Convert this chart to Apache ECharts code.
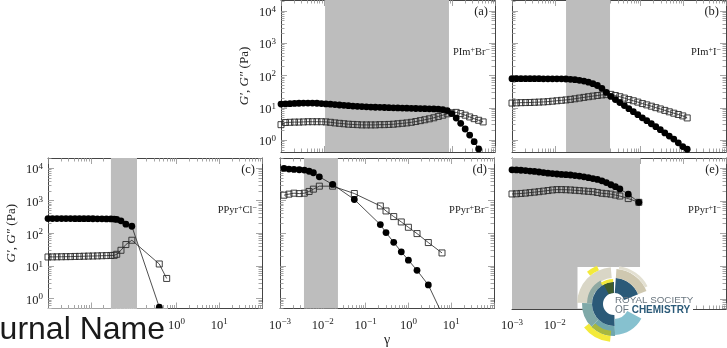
<!DOCTYPE html>
<html>
<head>
<meta charset="utf-8">
<style>
  html, body { margin: 0; padding: 0; background: #fff; }
  #chart { width: 727px; height: 348px; }
</style>
<script src="https://cdn.jsdelivr.net/npm/echarts@6/dist/echarts.min.js"></script>
</head>
<body>
<div id="chart"></div>
<script>
// panel (a)
var aStrain = [0.001, 0.00127, 0.00162, 0.00207, 0.00263, 0.00335, 0.00427, 0.00543, 0.00692, 0.00881, 0.0112, 0.0143, 0.0182, 0.0232, 0.0295, 0.0376, 0.0479, 0.061, 0.0776, 0.0989, 0.126, 0.16, 0.204, 0.26, 0.331, 0.422, 0.537, 0.684, 0.871, 1.11, 1.41, 1.8, 2.29, 2.92, 3.72, 4.73, 6.03, 7.68, 9.77, 12.4, 15.8, 20.1, 25.6, 32.6, 41.5, 52.8];
var aStorage = [13, 13.2, 13.4, 13.6, 13.8, 14, 14, 14, 13.8, 13.5, 13.2, 12.9, 12.6, 12.2, 11.9, 11.6, 11.3, 11.1, 10.9, 10.7, 10.5, 10.4, 10.3, 10.2, 10.1, 10, 9.9, 9.8, 9.7, 9.6, 9.5, 9.45, 9.4, 9.3, 9.2, 9.1, 8.8, 8.2, 6.6, 4.8, 3.3, 2.2, 1.43, 0.89, 0.53];
var aLoss = [3.0, 3.5, 3.55, 3.6, 3.6, 3.65, 3.7, 3.7, 3.7, 3.7, 3.65, 3.55, 3.4, 3.3, 3.2, 3.1, 3.05, 3.0, 2.95, 2.95, 2.95, 2.95, 3.0, 3.0, 3.05, 3.1, 3.2, 3.3, 3.4, 3.55, 3.75, 4.0, 4.25, 4.55, 4.9, 5.4, 5.9, 6.5, 7.0, 7.2, 6.6, 5.9, 5.2, 4.6, 4.1, 3.65];
var aShade = [0.0107, 8.4];

// panel (b)
var bStrain = [0.001, 0.00127, 0.00162, 0.00207, 0.00263, 0.00335, 0.00427, 0.00543, 0.00692, 0.00881, 0.0112, 0.0143, 0.0182, 0.0232, 0.0295, 0.0376, 0.0479, 0.061, 0.0776, 0.0989, 0.126, 0.16, 0.204, 0.26, 0.331, 0.422, 0.537, 0.684, 0.871, 1.11, 1.41, 1.8, 2.29, 2.92, 3.72, 4.73, 6.03, 7.68, 9.77, 12.4];
var bStorage = [80, 80, 80, 80, 80, 80, 80, 79, 79, 79, 79, 79, 78, 76, 74, 71, 67, 62, 56, 49, 40, 30, 22.5, 18, 14.5, 11.7, 9.4, 7.6, 6.1, 4.9, 4, 3.2, 2.6, 2.1, 1.66, 1.33, 1.07, 0.82, 0.63, 0.52];
var bLoss = [14, 14.2, 14.4, 14.5, 14.6, 14.8, 15, 15.2, 15.5, 16, 16.5, 17, 17.5, 18.2, 19, 20, 21, 22, 23, 24, 25, 25.5, 26, 24, 22, 20, 18, 16.5, 15, 13.5, 12.3, 11.2, 10.1, 9.2, 8.3, 7.5, 6.8, 6.2, 5.6, 4.85];
var bShade = [0.0183, 0.195];

// panel (c)
var cStrain = [0.001, 0.00127, 0.00162, 0.00207, 0.00263, 0.00335, 0.00427, 0.00543, 0.00692, 0.00881, 0.0112, 0.0143, 0.0182, 0.0232, 0.0295, 0.0352, 0.0403, 0.0507, 0.066, 0.091, 0.398, 0.593];
var cStorage = [283, 283, 283, 282, 282, 282, 281, 281, 280, 280, 279, 278, 277, 276, 275, 272, 265, 240, 190, 164, 0.54];
var cLoss = [18.7, 18.8, 18.9, 19, 19.1, 19.2, 19.4, 19.5, 19.7, 19.9, 20, 20.2, 20.4, 20.6, 20.8, 21, 22.6, 30, 45, 61, 11.4, 4.1];
var cShade = [0.0295, 0.12];

// panel (d)
var dStrain = [0.00124, 0.00162, 0.00212, 0.00282, 0.0037, 0.00478, 0.00603, 0.0083, 0.017, 0.0545, 0.221, 0.3, 0.454, 0.682, 1, 1.59, 2.92, 6.1];
var dStorage = [9800, 9300, 9100, 8900, 8700, 8000, 7200, 5400, 3150, 1090, 185, 105, 53, 27, 15, 7.3, 2.6, 0.34];
var dLoss = [1475, 1590, 1700, 1650, 1700, 1920, 2260, 2790, 2790, 1660, 690, 485, 326, 223, 153, 98, 52, 25];
var dShade = [0.00363, 0.0226];

// panel (e)
var eStrain = [0.001, 0.00127, 0.00162, 0.00207, 0.00263, 0.00335, 0.00427, 0.00543, 0.00692, 0.00881, 0.0112, 0.0143, 0.0182, 0.0232, 0.0295, 0.0376, 0.0479, 0.061, 0.0776, 0.0989, 0.126, 0.16, 0.204, 0.26, 0.331, 0.52, 0.92];
var eStorage = [8900, 8800, 8600, 8400, 8100, 7900, 7600, 7300, 7000, 6800, 6600, 6400, 6300, 6150, 5900, 5700, 5400, 5100, 4800, 4500, 4100, 3600, 3100, 2700, 2300, 1600, 900];
var eLoss = [1620, 1640, 1680, 1720, 1780, 1840, 1900, 1980, 2060, 2150, 2200, 2200, 2180, 2150, 2100, 2050, 2000, 1950, 1900, 1800, 1700, 1650, 1600, 1500, 1400, 1170, 900];
var eShade = [0.001, 0.98];

var xTicks = [0.001, 0.01, 0.1, 1, 10, 100];
var yTicks = [1, 10, 100, 1000, 10000];
var subTicks = [2, 3, 4, 5, 6, 7, 8, 9];

var serif = "Liberation Serif";
var inkColor = "#222";
var frameColor = "#444";
var tickColor = "#8f8f8f";

var panels = [
  { tag: "(a)", sample: ["PIm", "Br"], x: aStrain, g1: aStorage, g2: aLoss, shade: aShade,
    left: 281, right: 495, top: -1, bottom: 152, yMin: 0.427, yMax: 21800, yLabels: true, yName: 30, tagTop: 12, sampleTop: 52 },
  { tag: "(b)", sample: ["PIm", "I"], x: bStrain, g1: bStorage, g2: bLoss, shade: bShade,
    left: 512, right: 726, top: -1, bottom: 152, yMin: 0.427, yMax: 21800, tagTop: 12, sampleTop: 52 },
  { tag: "(c)", sample: ["PPyr", "Cl"], x: cStrain, g1: cStorage, g2: cLoss, shade: cShade,
    left: 48, right: 262, top: 158, bottom: 308.5, yMin: 0.49, yMax: 20400, yLabels: true, xLabels: [1, 10], yName: 30, tagTop: 170, sampleTop: 210 },
  { tag: "(d)", sample: ["PPyr", "Br"], x: dStrain, g1: dStorage, g2: dLoss, shade: dShade,
    left: 280, right: 494, top: 158, bottom: 309, yMin: 0.49, yMax: 20400, xLabels: [0.001, 0.01, 0.1, 1, 10], xName: "γ", tagTop: 170, sampleTop: 210 },
  { tag: "(e)", sample: ["PPyr", "I"], x: eStrain, g1: eStorage, g2: eLoss, shade: eShade,
    left: 512, right: 726, top: 158, bottom: 309, yMin: 0.49, yMax: 20400, xLabels: [0.001, 0.01], tagTop: 170, sampleTop: 210 }
];

function minorOf(majors, min, max) {
  var out = [];
  majors.concat([majors[0] / 10]).forEach(function (m) {
    subTicks.forEach(function (k) {
      var v = m * k;
      if (v > min && v < max) out.push(v);
    });
  });
  return out;
}

function powerLabel(v) {
  var e = Math.round(Math.log(v) / Math.LN10);
  return "{b|10}{s|" + String(e).replace("-", "−") + "}";
}

var labelRich = {
  b: { fontFamily: serif, fontSize: 12.5, color: inkColor },
  s: { fontFamily: serif, fontSize: 9, color: inkColor, padding: [0, 0, 7, 0] }
};

function makeAxis(grid, position, min, max, ticks, len, extra) {
  return Object.assign({
    type: "log",
    logBase: 10,
    gridIndex: grid,
    position: position,
    min: min,
    max: max,
    splitLine: { show: false },
    axisLine: { show: false },
    axisLabel: { show: false },
    axisTick: { show: true, inside: true, length: len, customValues: ticks, lineStyle: { color: tickColor, width: 0.8 } },
    minorTick: { show: false }
  }, extra || {});
}

var grids = [], xAxes = [], yAxes = [], series = [], graphics = [];

panels.forEach(function (p, i) {
  grids.push({ left: p.left, top: p.top, width: p.right - p.left, height: p.bottom - p.top });

  var xLine = { show: true, onZero: false, lineStyle: { color: frameColor, width: 1 } };
  var xMain = {
    axisLine: xLine,
    axisLabel: p.xLabels ? {
      show: true, customValues: p.xLabels, margin: 9, formatter: powerLabel, rich: labelRich, hideOverlap: false
    } : { show: false }
  };
  if (p.xName) {
    xMain.name = p.xName;
    xMain.nameLocation = "middle";
    xMain.nameGap = 22;
    xMain.nameTextStyle = { fontFamily: serif, fontSize: 14, color: inkColor };
  }
  var firstX = xAxes.length, firstY = yAxes.length;
  xAxes.push(makeAxis(i, "bottom", 0.001, 100, xTicks, 6, xMain));
  xAxes.push(makeAxis(i, "top", 0.001, 100, xTicks, 6, { axisLine: xLine }));
  xAxes.push(makeAxis(i, "bottom", 0.001, 100, minorOf(xTicks, 0.001, 100), 3.5));
  xAxes.push(makeAxis(i, "top", 0.001, 100, minorOf(xTicks, 0.001, 100), 3.5));

  var yMain = {
    axisLine: xLine,
    axisLabel: p.yLabels ? {
      show: true, customValues: yTicks, margin: 5, padding: [4, 0, 0, 0], formatter: powerLabel, rich: labelRich, hideOverlap: false
    } : { show: false }
  };
  if (p.yName) {
    yMain.name = "{i|G′, G″} {r|(Pa)}";
    yMain.nameLocation = "middle";
    yMain.nameGap = p.yName;
    yMain.nameRotate = 90;
    yMain.nameTextStyle = {
      rich: {
        i: { fontFamily: serif, fontStyle: "italic", fontSize: 13, color: inkColor },
        r: { fontFamily: serif, fontSize: 13, color: inkColor }
      }
    };
  }
  yAxes.push(makeAxis(i, "left", p.yMin, p.yMax, yTicks, 6, yMain));
  yAxes.push(makeAxis(i, "right", p.yMin, p.yMax, yTicks, 6, { axisLine: xLine }));
  yAxes.push(makeAxis(i, "left", p.yMin, p.yMax, minorOf(yTicks, p.yMin, p.yMax), 3.5));
  yAxes.push(makeAxis(i, "right", p.yMin, p.yMax, minorOf(yTicks, p.yMin, p.yMax), 3.5));

  function zipped(ys) {
    return ys.map(function (v, k) { return [p.x[k], v]; });
  }
  var common = {
    type: "line",
    xAxisIndex: firstX,
    yAxisIndex: firstY,
    showAllSymbol: true,
    clip: true,
    silent: true,
    animation: false,
    lineStyle: { color: inkColor, width: 0.8 }
  };
  series.push(Object.assign({}, common, {
    name: "G'' " + p.tag,
    data: zipped(p.g2),
    symbol: "rect",
    symbolSize: 6,
    itemStyle: { color: "rgba(0,0,0,0)", borderColor: "#2a2a2a", borderWidth: 0.9 },
    z: 3,
    markArea: {
      silent: true,
      itemStyle: { color: "#bdbdbd" },
      data: [[{ xAxis: p.shade[0] }, { xAxis: p.shade[1] }]]
    }
  }));
  series.push(Object.assign({}, common, {
    name: "G' " + p.tag,
    data: zipped(p.g1),
    symbol: "circle",
    symbolSize: 6.8,
    itemStyle: { color: "#000" },
    z: 4
  }));

  graphics.push({
    type: "text", z: 50, x: p.right - 7, y: p.tagTop,
    style: { text: p.tag, fontFamily: serif, fontSize: 12.5, fill: inkColor, align: "right", verticalAlign: "middle" }
  });
  graphics.push({
    type: "text", z: 50, x: p.right - 5, y: p.sampleTop,
    style: {
      text: "{t|" + p.sample[0] + "}{u|+}{t|" + p.sample[1] + "}{u|−}",
      align: "right", verticalAlign: "middle",
      rich: {
        t: { fontFamily: serif, fontSize: 10.5, fill: inkColor, color: inkColor },
        u: { fontFamily: serif, fontSize: 8, fill: inkColor, color: inkColor, padding: [0, 0, 5, 0] }
      }
    }
  });
});

// journal banner and society logo laid over the plot
graphics.push({ type: "rect", z: 60, shape: { x: 0, y: 308.6, width: 168, height: 40 }, style: { fill: "#fff" } });
graphics.push({
  type: "text", z: 61, x: 165, y: 346,
  style: { text: "Journal Name", fontFamily: "Liberation Sans", fontSize: 32, fill: "#1a1a1a", align: "right", verticalAlign: "bottom" }
});
graphics.push({ type: "rect", z: 60, shape: { x: 577.5, y: 267, width: 116, height: 41.5 }, style: { fill: "#fff" } });
graphics.push({ type: "rect", z: 60, shape: { x: 585, y: 308, width: 108, height: 40 }, style: { fill: "#fff" } });

var logoArcs = [
  [26, 37, 95, 178, "#d9d6c6"],
  [22, 32, 178, 225, "#7fa9a8"],
  [22, 27, 120, 178, "#8fa9a2"],
  [22, 32, 225, 272, "#6fa6ad"],
  [11, 22, 90, 272, "#2b5a78"],
  [11, 26, 22, 86, "#2b5a78"],
  [26, 35, 22, 86, "#cfc8b0"],
  [35, 38, 28, 82, "#e3e0d2"],
  [15, 31, 272, 332, "#86c1cf"],
  [32, 38, 218, 264, "#f3ea3a"],
  [27, 32, 226, 264, "#a8b83e"],
  [37, 42, 114, 130, "#f3ea3a"],
  [11, 22, 92, 118, "#3f5c2c"],
  [22, 25, 92, 122, "#f3ea3a"]
];
logoArcs.forEach(function (a) {
  graphics.push({
    type: "sector", z: 62,
    shape: { cx: 614, cy: 304, r0: a[0], r: a[1], startAngle: -a[3] * Math.PI / 180, endAngle: -a[2] * Math.PI / 180 },
    style: { fill: a[4] }
  });
});
graphics.push({
  type: "text", z: 63, x: 615, y: 300.5,
  style: { text: "ROYAL SOCIETY", fontFamily: "Liberation Sans", fontSize: 9.8, fill: "#6b7780", verticalAlign: "middle" }
});
graphics.push({
  type: "text", z: 63, x: 615, y: 310,
  style: {
    text: "{a|OF }{b|CHEMISTRY}", verticalAlign: "middle",
    rich: {
      a: { fontFamily: "Liberation Sans", fontSize: 10, fill: "#6b7780", color: "#6b7780" },
      b: { fontFamily: "Liberation Sans", fontSize: 10, fontWeight: "bold", fill: "#2b5a78", color: "#2b5a78" }
    }
  }
});

var chart = echarts.init(document.getElementById("chart"), null, { renderer: "canvas" });
chart.setOption({
  animation: false,
  backgroundColor: "#fff",
  grid: grids,
  xAxis: xAxes,
  yAxis: yAxes,
  series: series,
  graphic: graphics
});
</script>
</body>
</html>
